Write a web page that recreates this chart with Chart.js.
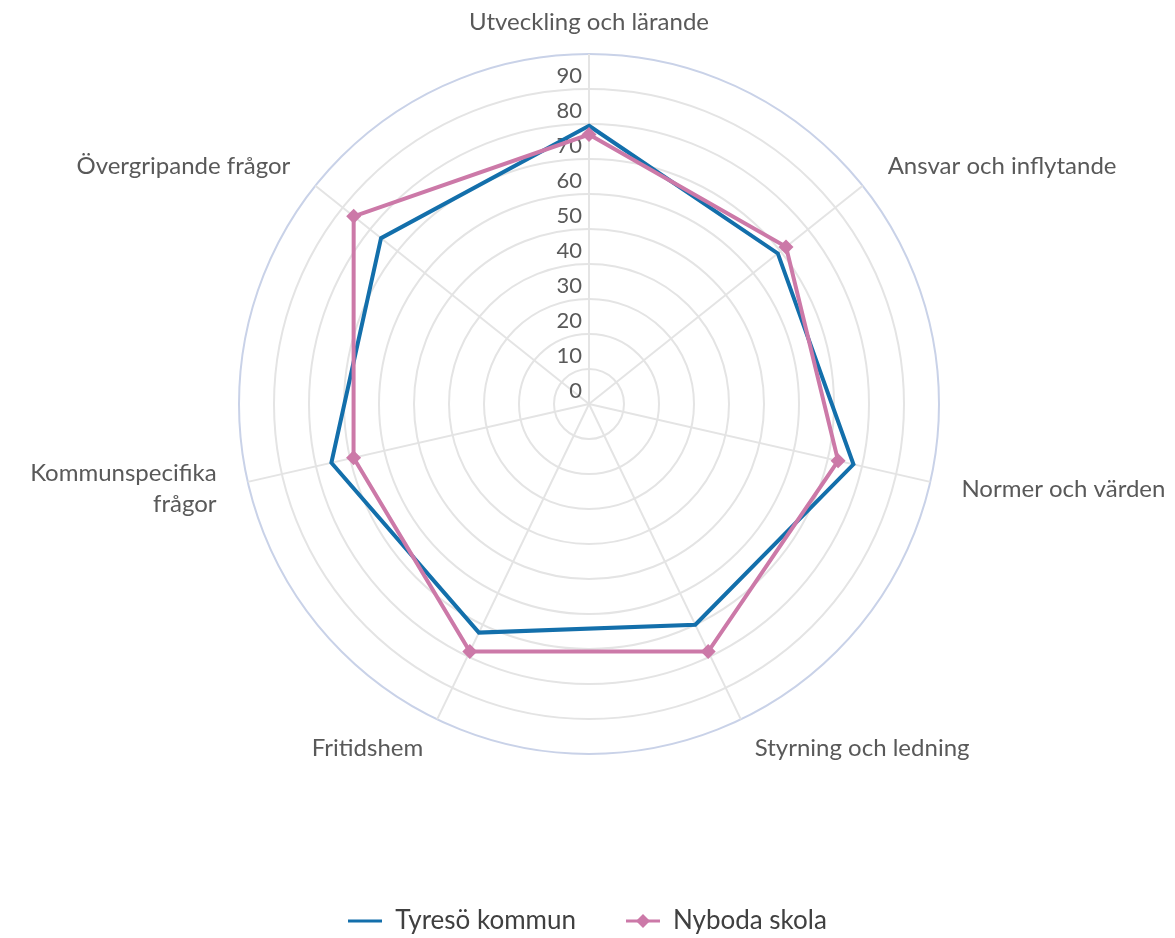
<!DOCTYPE html>
<html>
<head>
<meta charset="utf-8">
<script src="https://cdn.jsdelivr.net/npm/chart.js@4.4.1/dist/chart.umd.min.js"></script>
<style>
  html, body { margin: 0; padding: 0; background: #fff; }
  #wrap { width: 1175px; height: 938px; position: relative; }
</style>
</head>
<body>
<div id="wrap"><canvas id="chart"></canvas></div>
<script>
// --- data ---
const categories = [
    'Utveckling och lärande',
    'Ansvar och inflytande',
    'Normer och värden',
    'Styrning och ledning',
    'Fritidshem',
    ['Kommunspecifika', 'frågor'],
    'Övergripande frågor'
];
const tyresoValues = [79.5, 69, 77.5, 70, 72.5, 75.5, 76];
const nybodaValues = [77, 72, 73, 78.5, 78.5, 69, 86];
const tickValues = [0, 10, 20, 30, 40, 50, 60, 70, 80, 90];
const seriesNames = ['Tyresö kommun', 'Nyboda skola'];

const fontFamily = "Lato, 'Noto Sans', sans-serif";
const textColor = '#595959';
const blue = '#136fab';
const pink = '#cc79a8';

// small legend swatches: a line, and a line with a diamond
function makeSwatch(color, diamond) {
    const c = document.createElement('canvas');
    c.width = 34; c.height = 16;
    const g = c.getContext('2d');
    g.fillStyle = color;
    g.fillRect(0, 6.5, 34, 3);
    if (diamond) {
        g.beginPath();
        g.moveTo(17, 1); g.lineTo(24, 8); g.lineTo(17, 15); g.lineTo(10, 8);
        g.closePath();
        g.fill();
    }
    return c;
}
const swatches = [makeSwatch(blue, false), makeSwatch(pink, true)];

// tick labels sit just above each ring, left of the vertical axis
const tickLabelPlugin = {
    id: 'tickLabels',
    beforeDatasetsDraw(chart) {
        const scale = chart.scales.r;
        const ctx = chart.ctx;
        ctx.save();
        ctx.font = '22px ' + fontFamily;
        ctx.fillStyle = textColor;
        ctx.textAlign = 'right';
        ctx.textBaseline = 'middle';
        tickValues.forEach(v => {
            const d = scale.getDistanceFromCenterForValue(v);
            ctx.fillText(String(v), scale.xCenter - 7, scale.yCenter - d - 13);
        });
        ctx.restore();
    }
};

// category labels around the outer ring
const pointLabelPlugin = {
    id: 'pointLabelsCustom',
    afterDraw(chart) {
        const scale = chart.scales.r;
        const ctx = chart.ctx;
        const dist = scale.drawingArea + 32;
        ctx.save();
        ctx.font = '24px ' + fontFamily;
        ctx.fillStyle = textColor;
        ctx.textBaseline = 'middle';
        categories.forEach((lab, i) => {
            const p = scale.getPointPosition(i, dist);
            const dx = p.x - scale.xCenter;
            ctx.textAlign = Math.abs(dx) < 5 ? 'center' : (dx > 0 ? 'left' : 'right');
            const lines = Array.isArray(lab) ? lab : [lab];
            lines.forEach((t, k) => {
                ctx.fillText(t, p.x, p.y + (k - (lines.length - 1) / 2) * 31);
            });
        });
        ctx.restore();
    }
};

new Chart(document.getElementById('chart'), {
    type: 'radar',
    data: {
        labels: categories,
        datasets: [{
            label: seriesNames[0],
            data: tyresoValues,
            borderColor: blue,
            backgroundColor: blue,
            borderWidth: 4,
            pointRadius: 0,
            fill: false,
            tension: 0,
            order: 1
        }, {
            label: seriesNames[1],
            data: nybodaValues,
            borderColor: pink,
            backgroundColor: pink,
            borderWidth: 4,
            pointStyle: 'rectRot',
            pointRadius: 7.5,
            pointBorderWidth: 0,
            pointBackgroundColor: pink,
            fill: false,
            tension: 0,
            order: 0
        }]
    },
    options: {
        responsive: true,
        maintainAspectRatio: false,
        animation: false,
        layout: { padding: { bottom: -6 } },
        plugins: {
            tooltip: { enabled: false },
            legend: {
                position: 'bottom',
                labels: {
                    usePointStyle: true,
                    pointStyleWidth: 34,
                    padding: 50,
                    color: '#404040',
                    font: { family: fontFamily, size: 26, lineHeight: 1 },
                    sort: (a, b) => a.datasetIndex - b.datasetIndex,
                    generateLabels(chart) {
                        const items = Chart.defaults.plugins.legend.labels.generateLabels(chart);
                        items.forEach(it => { it.pointStyle = swatches[it.datasetIndex]; });
                        return items;
                    }
                }
            }
        },
        scales: {
            r: {
                min: 0,
                max: 100,
                beginAtZero: true,
                ticks: { stepSize: 10, display: false },
                pointLabels: { display: false },
                grid: {
                    circular: true,
                    lineWidth: 2,
                    color: ctx => (ctx.tick && ctx.tick.value === 100) ? '#c9d2e8' : '#e4e4e4'
                },
                angleLines: { color: '#e4e4e4', lineWidth: 2 },
                // fix the plot circle where the reference has it
                afterFit(scale) {
                    scale.xCenter = 589;
                    scale.yCenter = 404;
                    scale.drawingArea = 350;
                }
            }
        }
    },
    plugins: [tickLabelPlugin, pointLabelPlugin]
});
</script>
</body>
</html>
